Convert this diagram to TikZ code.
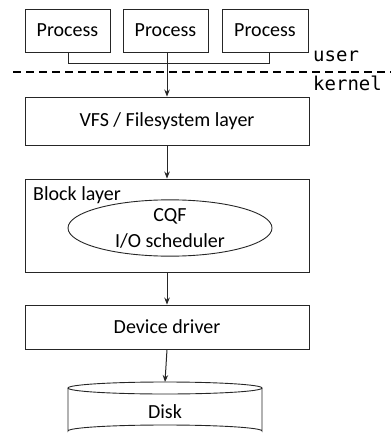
\documentclass[tikz,border=0pt]{standalone}
\usepackage{fontspec}
\setmainfont{Carlito}
\setmonofont{DejaVu Sans Mono}
\usetikzlibrary{arrows.meta,shapes.geometric}
\begin{document}
\begin{tikzpicture}[x=1pt,y=-1pt,
  box/.style={draw=black!85,line width=0.9pt,rectangle,inner sep=0pt,font=\fontsize{20}{26}\selectfont},
  conn/.style={draw=black!85,line width=1pt},
  arr/.style={conn,-{Stealth[length=7pt,width=5.5pt]}},
  lbl/.style={font=\fontsize{20}{26}\selectfont,inner sep=0pt},
  mono/.style={font=\fontsize{19}{24}\ttfamily,inner sep=0pt,anchor=base west}]
\useasboundingbox (0,0) rectangle (391,433);
\node[box,minimum width=85pt,minimum height=43pt] (p1) at (67.5,30.5) {Process};
\node[box,minimum width=85pt,minimum height=43pt] (p2) at (165.5,30.5) {Process};
\node[box,minimum width=86pt,minimum height=43pt] (p3) at (265,30.5) {Process};
\coordinate (j1) at ([xshift=1]p1.south);
\coordinate (j3) at ([xshift=4]p3.south);
\draw[conn] (j1) -- ++(0,11) -| (j3);
\node[box,minimum width=284pt,minimum height=48pt] (vfs) at (167,121) {VFS / Filesystem layer};
\draw[arr] ([xshift=1.5]p2.south) -- (vfs.north);
\draw[line width=1.3pt,dash pattern=on 8pt off 5pt] (13,72) -- (391,72);
\node[mono] (user) at (313,62) {user};
\node[mono] (kernel) at (313,91) {kernel};
\node[box,minimum width=284pt,minimum height=93pt] (block) at (167,225.5) {};
\node[lbl,anchor=west] (blbl) at (33,195) {Block layer};
\node[draw=black!85,line width=0.9pt,ellipse,minimum width=204pt,minimum height=54pt,inner sep=0pt,align=center,font=\fontsize{20}{26}\selectfont] (sched) at (170,228) {CQF\\I/O scheduler};
\draw[arr] (vfs.south) -- (block.north);
\node[box,minimum width=284pt,minimum height=44pt] (dd) at (167,327) {Device driver};
\draw[arr] (block.south) -- (dd.north);
\node[lbl,minimum width=194pt,minimum height=51pt,anchor=north] (disk) at (165,382) {};
\node[lbl] (disklbl) at (165,412) {Disk};
\draw[draw=black!85,line width=0.9pt] (165,388) ellipse (97pt and 6pt);
\draw[draw=black!85,line width=0.9pt] (68,388) -- (68,431) arc[start angle=180,end angle=0,x radius=97pt,y radius=6pt] -- (262,388);
\draw[arr] (dd.south) -- (disk.north);
\end{tikzpicture}
\end{document}
